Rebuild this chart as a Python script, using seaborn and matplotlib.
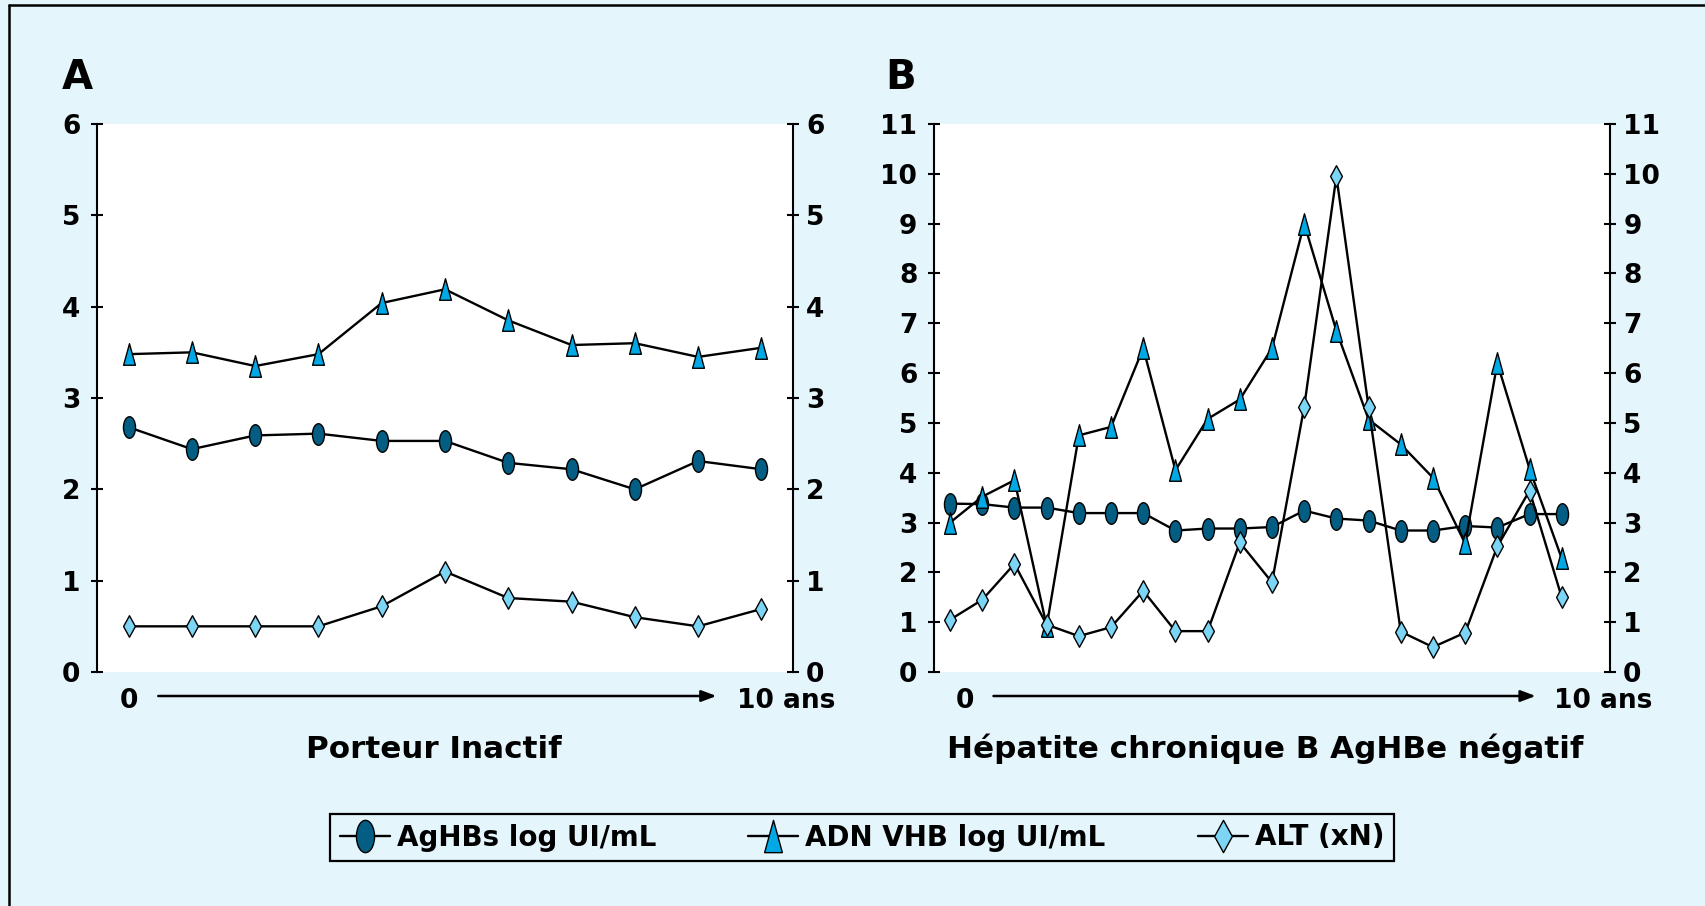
import numpy as np
import pandas as pd
import matplotlib
matplotlib.use("Agg")
import matplotlib.pyplot as plt
from matplotlib.path import Path
from matplotlib.transforms import Affine2D
from matplotlib.lines import Line2D
import seaborn as sns

# Panel A - porteur inactif, 11 visits over 10 years
a_aghbs = [2.68, 2.44, 2.59, 2.61, 2.53, 2.53, 2.29, 2.22, 2.00, 2.31, 2.22]
a_adn = [3.48, 3.50, 3.35, 3.48, 4.04, 4.19, 3.85, 3.58, 3.60, 3.45, 3.55]
a_alt = [0.50, 0.50, 0.50, 0.50, 0.72, 1.10, 0.81, 0.77, 0.60, 0.50, 0.69]

# Panel B - hepatite chronique B AgHBe negatif, 20 visits over 10 years
b_aghbs = [3.38, 3.37, 3.30, 3.30, 3.19, 3.19, 3.19, 2.84, 2.88, 2.88,
           2.91, 3.24, 3.08, 3.04, 2.84, 2.84, 2.93, 2.90, 3.17, 3.17]
b_adn = [3.00, 3.52, 3.85, 0.92, 4.75, 4.92, 6.50, 4.05, 5.08, 5.47,
         6.50, 9.00, 6.85, 5.07, 4.57, 3.90, 2.58, 6.20, 4.08, 2.28]
b_alt = [1.05, 1.45, 2.17, 0.95, 0.72, 0.90, 1.63, 0.82, 0.82, 2.60,
         1.80, 5.32, 9.95, 5.32, 0.81, 0.50, 0.79, 2.52, 3.64, 1.50]

series_labels = ["AgHBs log UI/mL", "ADN VHB log UI/mL", "ALT (xN)"]
panel_titles = ["Porteur Inactif", "Hépatite chronique B AgHBe négatif"]
panel_letters = ["A", "B"]
a_yticks = list(range(0, 7))
b_yticks = list(range(0, 12))
time_labels = ["0", "10 ans"]

BG = "#E4F5FC"
FILLS = ["#045E84", "#00A9E6", "#7DD5F5"]

sns.set_style("white")
plt.rcParams["font.family"] = ["DejaVu Sans"]
plt.rcParams["font.weight"] = "bold"
plt.rcParams["text.color"] = "black"
plt.rcParams["axes.labelcolor"] = "black"
plt.rcParams["xtick.color"] = "black"
plt.rcParams["ytick.color"] = "black"

# Marker shapes: tall ellipse, tall triangle, thin diamond
ellipse = Path.unit_circle().transformed(Affine2D().scale(0.56, 1.0))
triangle = Path([(0, 1), (-0.55, -1), (0.55, -1), (0, 1)],
                [Path.MOVETO, Path.LINETO, Path.LINETO, Path.CLOSEPOLY])
diamond = Path([(0, 1), (0.55, 0), (0, -1), (-0.55, 0), (0, 1)],
               [Path.MOVETO, Path.LINETO, Path.LINETO, Path.LINETO, Path.CLOSEPOLY])
MARKERS = [ellipse, triangle, diamond]

fig = plt.figure(figsize=(17.06, 9.06), dpi=100, facecolor=BG)
W, H = 1706, 906


def panel(rect_px, series, n_slots, yticks, letter, letter_x, title, title_x):
    l, r, t, b = rect_px
    ax = fig.add_axes([l / W, 1 - b / H, (r - l) / W, (b - t) / H])
    ax.set_facecolor("white")
    for vals, mk, fc, lab in zip(series, MARKERS, FILLS, series_labels):
        df = pd.DataFrame({"t": np.arange(len(vals)), "v": vals})
        sns.lineplot(data=df, x="t", y="v", ax=ax, color="black", linewidth=1.7,
                     marker=mk, markersize=15.5, markerfacecolor=fc,
                     markeredgecolor="black", markeredgewidth=1.0, label=lab)
    if ax.get_legend() is not None:
        ax.get_legend().remove()
    ax.set_xlim(-0.5, n_slots - 0.5)
    ax.set_ylim(yticks[0], yticks[-1])
    ax.set_xticks([])
    ax.set_yticks(yticks)
    ax.set_xlabel("")
    ax.set_ylabel("")
    for s in ["top", "bottom", "right"]:
        ax.spines[s].set_visible(False)
    ax.spines["left"].set_linewidth(1.5)
    ax.spines["left"].set_color("black")
    ax.tick_params(axis="y", direction="inout", length=8, width=1.5, pad=8,
                   labelsize=19, colors="black", left=True)

    twin = ax.twinx()
    twin.set_ylim(yticks[0], yticks[-1])
    twin.set_yticks(yticks)
    for s in ["top", "bottom", "left"]:
        twin.spines[s].set_visible(False)
    twin.spines["right"].set_linewidth(1.5)
    twin.spines["right"].set_color("black")
    twin.tick_params(axis="y", direction="inout", length=8, width=1.5, pad=5.5,
                     labelsize=19, colors="black", right=True)
    for lbl in ax.get_yticklabels() + twin.get_yticklabels():
        lbl.set_fontweight("bold")
        lbl.set_color("black")

    # time arrow under the plot area
    ax.annotate("", xy=(0.89, -0.0438), xytext=(0.088, -0.0438),
                xycoords="axes fraction", textcoords="axes fraction",
                arrowprops=dict(arrowstyle="-|>,head_length=0.45,head_width=0.17",
                                color="black", lw=1.8, mutation_scale=20,
                                shrinkA=0, shrinkB=0),
                annotation_clip=False)
    ax.text(0.046, -0.0657, time_labels[0], transform=ax.transAxes, ha="center",
            va="baseline", fontsize=19, fontweight="bold", color="black")
    ax.text(0.99, -0.0657, time_labels[1], transform=ax.transAxes, ha="center",
            va="baseline", fontsize=19, fontweight="bold", color="black")

    fig.text(letter_x / W, 1 - 89 / H, letter, ha="left", va="baseline",
             fontsize=29, fontweight="bold", color="black")
    fig.text(title_x / W, 1 - 758 / H, title, ha="center", va="baseline",
             fontsize=22.3, fontweight="bold", color="black")
    return ax


ax_a = panel((97, 793, 124, 672), [a_aghbs, a_adn, a_alt], 11, a_yticks,
             panel_letters[0], 62, panel_titles[0], 434)
ax_b = panel((934, 1610, 124, 672), [b_aghbs, b_adn, b_alt], 21, b_yticks,
             panel_letters[1], 885, panel_titles[1], 1265)

handles, labels = ax_a.get_legend_handles_labels()
leg = fig.legend(handles[:3], labels[:3], loc="center",
                 bbox_to_anchor=(330 / W, 1 - 867 / H, 1064 / W, 59 / H),
                 mode="expand", ncol=3, fontsize=20, markerscale=1.5,
                 handlelength=1.8, handletextpad=0.25, borderpad=0.35,
                 borderaxespad=0, fancybox=False, frameon=True,
                 edgecolor="black", facecolor=BG, framealpha=1)
leg.get_frame().set_linewidth(1.6)
for txt in leg.get_texts():
    txt.set_fontweight("bold")
    txt.set_color("black")

# frame lines along the top and left edges
fig.add_artist(Line2D([9 / W, 9 / W], [0, 1 - 5 / H], transform=fig.transFigure,
                      color="black", lw=1.8))
fig.add_artist(Line2D([9 / W, 1], [1 - 5 / H, 1 - 5 / H], transform=fig.transFigure,
                      color="black", lw=1.8))

fig.savefig("out.png", dpi=100, facecolor=BG)
